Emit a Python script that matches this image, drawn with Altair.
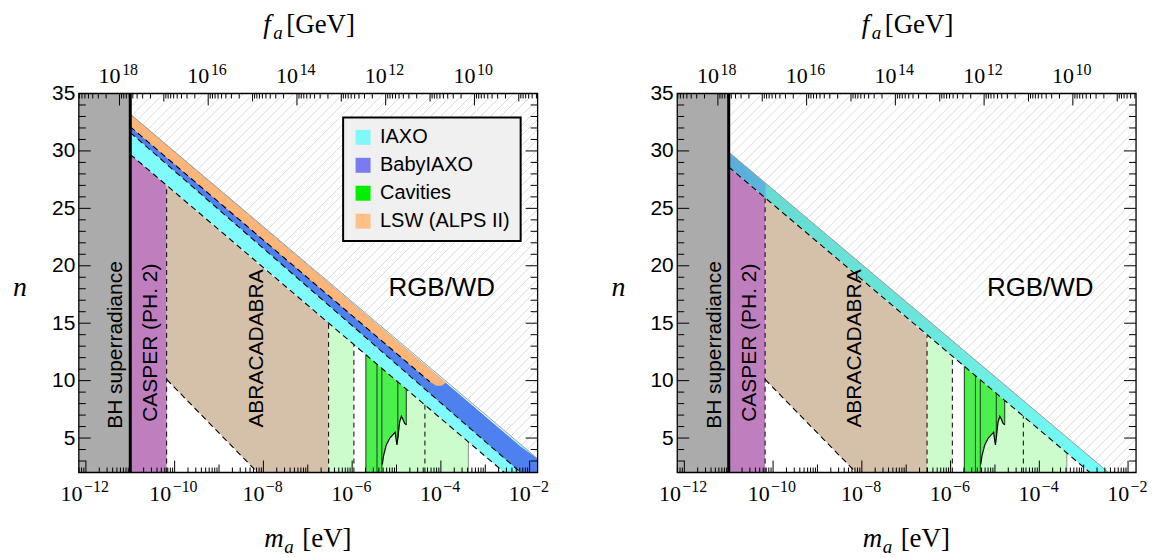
import altair as alt
import numpy as np
import pandas as pd

# ---------------- frame / scales ----------------
X_MIN, X_MAX = -12.16, -1.82      # log10(m_a / eV)
N_MIN, N_MAX = 2, 35
W, H = 460, 380
FA_CONST = 6.7559                 # log10(m_a/eV) = FA_CONST - log10(f_a/GeV)
SANS = "Liberation Sans"
SERIF = "Liberation Serif"

# ---------------- data: (log10 m_a, n) ----------------
bh_x = [-12.16, -11.0]
bh_n = [2, 35]

casper_x = [-11.0, -10.18]
casper_top_left = [29.7, 27.0]
casper_top_right = [28.6, 25.9]

abra_x = [-10.18, -8.13, -6.53]
abra_top_left = [27.0, 20.2, 15.0]
abra_top_right = [25.9, 19.2, 13.9]
abra_bot = [10.1, 2.0, 2.0]

cavA_x = [-6.53, -5.96]
cavA_top_left = [15.0, 13.1]
cavA_top_right = [13.9, 12.1]

cavB_x = [-5.69, -3.38]
cavB_top_left = [12.25, 4.65]
cavB_top_right = [11.24, 3.68]

cav1_x = [-5.69, -5.44]
cav1_top_left = [12.25, 11.43]
cav1_top_right = [11.24, 10.42]

cav2_x = [-5.44, -5.33, -5.32, -5.29, -5.23, -5.15, -5.08, -5.03, -4.99, -4.97, -4.93, -4.89, -4.85, -4.82, -4.78]
cav2_bot = [2.0, 2.0, 2.7, 3.5, 4.4, 5.0, 5.3, 5.5, 4.4, 5.0, 6.4, 6.9, 6.6, 6.3, 6.15]
cav2_top_left = [11.43, 11.07, 11.04, 10.94, 10.74, 10.48, 10.25, 10.08, 9.95, 9.89, 9.75, 9.62, 9.49, 9.39, 9.26]
cav2_top_right = [10.42, 10.06, 10.03, 9.93, 9.73, 9.47, 9.24, 9.08, 8.95, 8.88, 8.75, 8.62, 8.49, 8.39, 8.26]

cav_lines_x = [-5.69, -5.44, -5.33, -4.97, -4.78]
cav_lines_bot = [2.0, 2.0, 2.0, 5.0, 6.15]
cav_lines_top_left = [12.25, 11.43, 11.07, 9.89, 9.26]
cav_lines_top_right = [11.24, 10.42, 10.06, 8.88, 8.26]

vdash_x = [-10.18, -6.53, -5.96, -4.36]
vdash_top_left = [27.0, 15.0, 13.1, 7.9]
vdash_top_right = [25.9, 13.9, 12.1, 6.9]

edge_x = [-3.38]
edge_top_left = [4.65]
edge_top_right = [3.68]

# helioscope / LSW bands (left panel)
iaxo_x_left = [-11.0, -2.57, -1.82]
iaxo_top_left = [33.2, 5.5, 3.2]
iaxo_bot_left = [29.7, 2.0, 2.0]
baby_x = [-11.0, -2.2, -1.82]
baby_top = [33.2, 4.25, 3.2]
baby_bot = [31.6, 2.0, 2.0]
lsw_x = [-11.0, -4.25, -4.1, -3.98, -3.9]
lsw_top = [33.2, 10.99, 10.5, 10.1, 9.84]
lsw_bot = [32.1, 9.9, 9.55, 9.55, 9.8]
bound_x_left = [-11.0, -1.82]
bound_n_left = [33.2, 3.2]
dash_left = {"L1": ([-11.0, -2.57], [29.7, 2.0]),
             "L2": ([-11.0, -2.2], [31.6, 2.0]),
             "L3": ([-11.0, -4.25], [32.1, 9.9]),
             "AB": ([-10.18, -8.13], [10.1, 2.0])}

# right panel
iaxo_x_right = [-11.0, -2.86, -2.44]
iaxo_top_right = [29.9, 3.37, 2.0]
iaxo_bot_right = [28.6, 2.0, 2.0]
bound_x_right = [-11.0, -2.44]
bound_n_right = [29.9, 2.0]
dash_right = {"L1": ([-11.0, -2.86], [28.6, 2.0]),
              "AB": ([-10.18, -8.13], [10.1, 2.0])}

legend_cats = ["IAXO", "BabyIAXO", "Cavities", "LSW (ALPS II)"]
legend_cols = ["#80f8f8", "#7b7bf0", "#00ee00", "#ffc088"]

y_labels = [5, 10, 15, 20, 25, 30, 35]
m_label_exp = [-12, -10, -8, -6, -4, -2]
f_label_exp = [18, 16, 14, 12, 10]

region_labels = {"t": ["BH superradiance", "CASPER (PH. 2)", "ABRACADABRA"],
                 "x": [-11.32, -10.53, -8.15],
                 "y": [13.1, 13.3, 12.8]}

C_GRAY = "#ababab"
C_PURPLE = "#bf7fbf"
C_TAN = "#d5c0aa"
C_LGREEN = "#ccfccc"
C_GREEN = "#4cf04c"
C_CYAN = "#80fbfb"
C_BLUE = "#4f80f0"
C_ORANGE = "#fdb677"


# ---------------- helpers ----------------
def ex(field="x"):
    return alt.X(f"{field}:Q", scale=alt.Scale(domain=[X_MIN, X_MAX], nice=False, zero=False), axis=None)


YAXIS = alt.Axis(values=y_labels, labelFont=SANS, labelFontSize=21, labelColor="black",
                 ticks=False, domain=False, grid=False, labelPadding=4, title=None)


def ey(field="y"):
    return alt.Y(f"{field}:Q", scale=alt.Scale(domain=[N_MIN, N_MAX], nice=False, zero=False), axis=YAXIS)


def area(x, top, bot, color, **kw):
    df = pd.DataFrame({"x": x, "y": top, "y2": bot})
    return alt.Chart(df).mark_area(color=color, **kw).encode(x=ex(), y=ey(), y2=alt.Y2("y2:Q"))


def line(x, n, color, width=1.0, dash=None):
    df = pd.DataFrame({"x": x, "y": n, "i": range(len(x))})
    kw = dict(color=color, strokeWidth=width)
    if dash:
        kw["strokeDash"] = dash
    return alt.Chart(df).mark_line(**kw).encode(x=ex(), y=ey(), order="i:Q")


def vrules(x, bot, top, color, width=1.0, dash=None):
    df = pd.DataFrame({"x": x, "y": bot, "y2": top})
    kw = dict(color=color, strokeWidth=width)
    if dash:
        kw["strokeDash"] = dash
    return alt.Chart(df).mark_rule(**kw).encode(x=ex(), y=ey(), y2=alt.Y2("y2:Q"))


def one():
    return pd.DataFrame({"a": [0]})


def ptext(text, px, py, size, font=SERIF, style="normal", align="left"):
    return alt.Chart(one()).mark_text(text=text, font=font, fontSize=size, fontStyle=style,
                                      align=align, baseline="alphabetic", color="black").encode(
        x=alt.value(px), y=alt.value(py))


# hatch texture above the bound
K = (W / (X_MAX - X_MIN)) / (H / (N_MAX - N_MIN))
hatch_c = np.arange(-42.0, 35.0, 0.87)
hatch_df = pd.DataFrame({"x1": X_MIN, "y1": hatch_c, "x2": X_MAX, "y2": hatch_c + K * (X_MAX - X_MIN)})

# tick tables
ytick_minor = [n for n in range(N_MIN, N_MAX + 1) if n % 5]
ytick_major = y_labels
m_major = [float(e) for e in m_label_exp]
m_mid = [-11.0, -9.0, -7.0, -5.0, -3.0]
m_minor = [k + np.log10(j) for k in range(-13, -1) for j in range(2, 10)]
m_minor = [v for v in m_minor if X_MIN < v < X_MAX]
f_major = [FA_CONST - e for e in f_label_exp]
f_mid = [FA_CONST - e for e in [19, 17, 15, 13, 11, 9]]
f_minor = [FA_CONST - (k + np.log10(j)) for k in range(7, 20) for j in range(2, 10)]
f_minor = [v for v in f_minor if X_MIN < v < X_MAX]
f_mid = [v for v in f_mid if X_MIN < v < X_MAX]


def xticks(vals, length, top=False):
    df = pd.DataFrame({"x": vals})
    if top:
        return alt.Chart(df).mark_rule(color="black", strokeWidth=1).encode(
            x=ex(), y=alt.value(0), y2=alt.value(length))
    return alt.Chart(df).mark_rule(color="black", strokeWidth=1).encode(
        x=ex(), y=alt.value(H), y2=alt.value(H - length))


def yticks(vals, length):
    df = pd.DataFrame({"y": vals})
    a = alt.Chart(df).mark_rule(color="black", strokeWidth=1).encode(
        y=ey(), x=alt.value(0), x2=alt.value(length))
    b = alt.Chart(df).mark_rule(color="black", strokeWidth=1).encode(
        y=ey(), x=alt.value(W), x2=alt.value(W - length))
    return [a, b]


def sup(e):
    return ("\u2212" + str(-e)) if e < 0 else str(e)


def xlabels():
    out = []
    bot = pd.DataFrame({"x": m_major, "e": [sup(e) for e in m_label_exp],
                        "long": [abs(e) >= 10 for e in m_label_exp]})
    for lng, d10, dex in [(True, -3.4, -2.0), (False, 1.1, 2.4)]:
        sub = bot[bot["long"] == lng]
        out.append(alt.Chart(sub).mark_text(text="10", font=SERIF, fontSize=22, align="right",
                                            baseline="alphabetic", dx=d10, color="black").encode(
            x=ex(), y=alt.value(H + 29)))
        out.append(alt.Chart(sub).mark_text(font=SERIF, fontSize=16, align="left",
                                            baseline="alphabetic", dx=dex, color="black").encode(
            x=ex(), y=alt.value(H + 20), text="e:N"))
    top = pd.DataFrame({"x": f_major, "e": [sup(e) for e in f_label_exp]})
    out.append(alt.Chart(top).mark_text(text="10", font=SERIF, fontSize=22, align="right",
                                        baseline="alphabetic", dx=1.1, color="black").encode(
        x=ex(), y=alt.value(-11)))
    out.append(alt.Chart(top).mark_text(font=SERIF, fontSize=16, align="left",
                                        baseline="alphabetic", dx=2.7, color="black").encode(
        x=ex(), y=alt.value(-18.5), text="e:N"))
    return out


def panel(left):
    layers = []
    layers.append(alt.Chart(hatch_df).mark_rule(clip=True, color="#d2d2d2", strokeWidth=0.8).encode(
        x=ex("x1"), x2=alt.X2("x2:Q"), y=ey("y1"), y2=alt.Y2("y2:Q")))
    bx, bn = (bound_x_left, bound_n_left) if left else (bound_x_right, bound_n_right)
    layers.append(area(bx, bn, [N_MIN] * len(bx), "white"))
    # BH superradiance
    layers.append(alt.Chart(pd.DataFrame({"x": [bh_x[0]], "x2": [bh_x[1]], "y": [bh_n[0]], "y2": [bh_n[1]]}))
                  .mark_rect(color=C_GRAY).encode(x=ex(), x2=alt.X2("x2:Q"), y=ey(), y2=alt.Y2("y2:Q")))
    if left:
        layers.append(area(iaxo_x_left, iaxo_top_left, iaxo_bot_left, C_CYAN))
        layers.append(area(baby_x, baby_top, baby_bot, C_BLUE))
        layers.append(area(lsw_x, lsw_top, lsw_bot, C_ORANGE))
        dashes = dash_left
        ct, at, gAt, gBt, c1t, c2t, clt, vdt, et = (casper_top_left, abra_top_left, cavA_top_left, cavB_top_left,
                                                    cav1_top_left, cav2_top_left, cav_lines_top_left,
                                                    vdash_top_left, edge_top_left)
    else:
        grad = alt.Gradient(gradient="linear", x1=0, x2=1, y1=0, y2=0, stops=[
            alt.GradientStop(color="#58acdc", offset=0.0),
            alt.GradientStop(color="#5cb6da", offset=0.095),
            alt.GradientStop(color="#66dcd2", offset=0.1),
            alt.GradientStop(color="#6ae6da", offset=0.5),
            alt.GradientStop(color="#74fefa", offset=1.0)])
        layers.append(area(iaxo_x_right, iaxo_top_right, iaxo_bot_right, grad))
        dashes = dash_right
        ct, at, gAt, gBt, c1t, c2t, clt, vdt, et = (casper_top_right, abra_top_right, cavA_top_right,
                                                    cavB_top_right, cav1_top_right, cav2_top_right,
                                                    cav_lines_top_right, vdash_top_right, edge_top_right)
    layers.append(line(bx, bn, "#9a9a9a", 1.0))
    layers.append(area(casper_x, ct, [N_MIN] * 2, C_PURPLE))
    layers.append(area(abra_x, at, abra_bot, C_TAN))
    layers.append(area(cavA_x, gAt, [N_MIN] * 2, C_LGREEN))
    layers.append(area(cavB_x, gBt, [N_MIN] * 2, C_LGREEN))
    layers.append(area(cav1_x, c1t, [N_MIN] * 2, C_GREEN))
    layers.append(area(cav2_x, c2t, cav2_bot, C_GREEN))
    layers.append(vrules(cav_lines_x, cav_lines_bot, clt, "#1a3a1a", 1.0))
    layers.append(line(cav2_x[2:], cav2_bot[2:], "black", 1.2))
    layers.append(vrules(edge_x, [N_MIN], et, "#777777", 0.8))
    layers.append(vrules(vdash_x, [N_MIN] * 4, vdt, "black", 1.0, [5, 4]))
    for k, (xs, ns) in dashes.items():
        layers.append(line(xs, ns, "black", 1.1, [6, 4]))
    layers.append(vrules([bh_x[1]], [N_MIN], [N_MAX], "black", 3.0))
    # region labels
    layers.append(alt.Chart(pd.DataFrame(region_labels)).mark_text(
        angle=270, font=SANS, fontSize=21, color="black").encode(x=ex(), y=ey(), text="t:N"))
    layers.append(alt.Chart(pd.DataFrame({"x": [-3.98], "y": [18.1], "t": ["RGB/WD"]})).mark_text(
        font=SANS, fontSize=26, color="black").encode(x=ex(), y=ey(), text="t:N"))
    if left:
        leg = pd.DataFrame({"x": [-20.0] * 4, "y": [10.0] * 4, "cat": legend_cats})
        layers.append(alt.Chart(leg).mark_square(clip=True, size=50, opacity=1).encode(
            x=ex(), y=ey(),
            color=alt.Color("cat:N", scale=alt.Scale(domain=legend_cats, range=legend_cols),
                            legend=alt.Legend(title=None, orient="none", legendX=265, legendY=24,
                                              fillColor="#f0f0f0", strokeColor="black", padding=10,
                                              rowPadding=8, symbolType="square", symbolSize=225,
                                              symbolStrokeWidth=0, symbolOpacity=1,
                                              labelFont=SANS, labelFontSize=20, labelColor="black",
                                              labelOffset=7))))
    # ticks
    layers += yticks(ytick_minor, 7)
    layers += yticks(ytick_major, 12)
    layers.append(xticks(m_minor, 5))
    layers.append(xticks(m_mid, 8))
    layers.append(xticks(m_major, 12))
    layers.append(xticks(f_minor, 5, top=True))
    layers.append(xticks(f_mid, 8, top=True))
    layers.append(xticks(f_major, 12, top=True))
    # frame
    layers.append(alt.Chart(one()).mark_rect(filled=False, color="black", strokeWidth=1.3).encode(
        x=alt.value(0), x2=alt.value(W), y=alt.value(0), y2=alt.value(H)))
    layers += xlabels()
    # titles
    layers.append(ptext("f", 185, -61, 27, style="italic"))
    layers.append(ptext("a", 195, -55, 19, style="italic"))
    layers.append(ptext("[GeV]", 208, -61, 27))
    layers.append(ptext("m", 186, H + 75, 27, style="italic"))
    layers.append(ptext("a", 206, H + 81, 19, style="italic"))
    layers.append(ptext("[eV]", 224, H + 75, 27))
    layers.append(ptext("n", -66, 203, 28, style="italic"))
    return alt.layer(*layers).properties(width=W, height=H)


chart = alt.hconcat(panel(True), panel(False), spacing=140, bounds="flush").properties(
    padding={"left": 5, "top": 2, "right": 5, "bottom": 2}
).configure_view(strokeWidth=0).configure_legend(strokeWidth=2)

chart.save("out.html", embed_options={"renderer": "svg", "actions": False})
